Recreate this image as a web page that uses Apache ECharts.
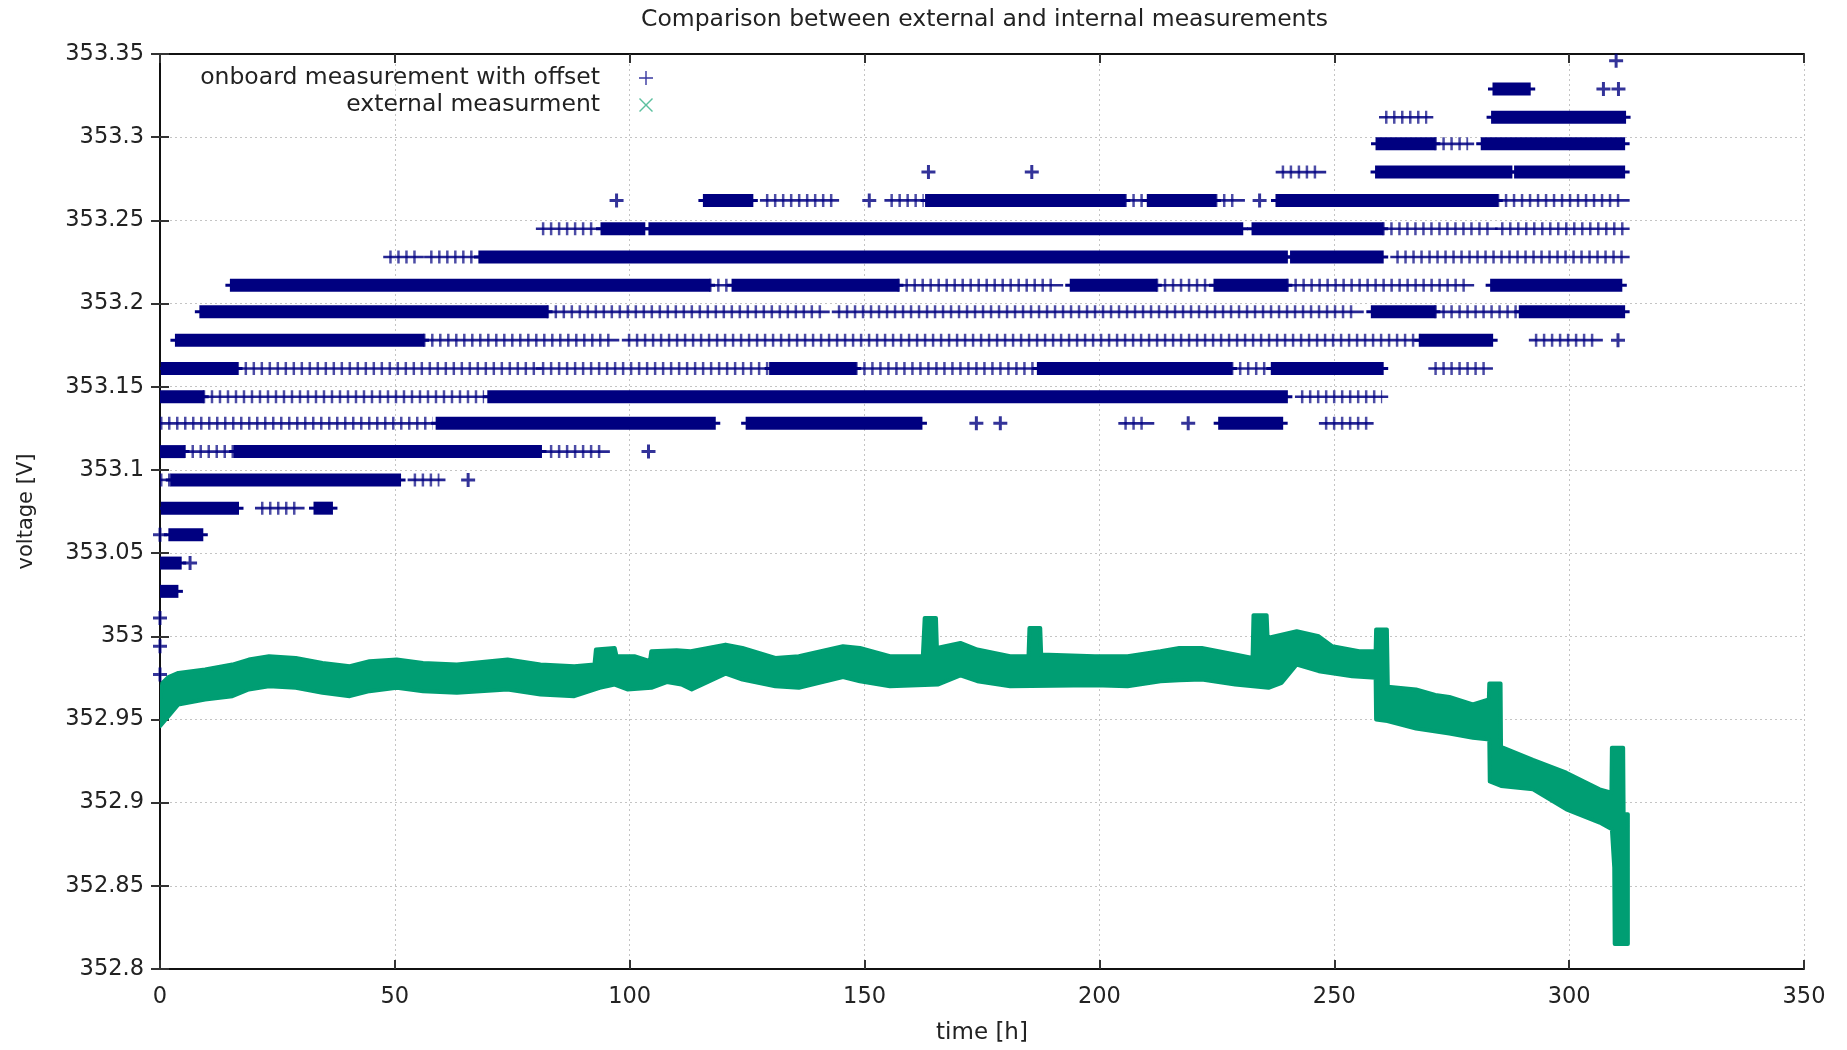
<!DOCTYPE html>
<html>
<head>
<meta charset="utf-8">
<script src="https://cdn.jsdelivr.net/npm/echarts@6.0.0/dist/echarts.min.js"></script>
<style>
  html, body { margin: 0; padding: 0; background: #fff; }
  #chart { width: 1847px; height: 1050px; }
</style>
</head>
<body>
<div id="chart"></div>
<script>
// quantised voltage steps of the onboard measurement [V]
const levels = [
  352.977, 352.994, 353.011, 353.027, 353.044, 353.061, 353.077, 353.094,
  353.111, 353.128, 353.144, 353.161, 353.178, 353.195, 353.211, 353.228,
  353.245, 353.262, 353.279, 353.296, 353.312, 353.329, 353.346
]

// dense runs of onboard points: [level index, from h, to h]
const denseRuns = [
  [3, 0, 3.6], [4, 0, 4.3], [5, 2.1, 8.9],
  [6, 0.5, 16.5], [6, 33, 36.5],
  [7, 2.5, 51],
  [8, 0, 5], [8, 16, 81],
  [9, 59, 118], [9, 125, 162], [9, 225.6, 238.8],
  [10, 0, 9.1], [10, 70, 239.8],
  [11, 0.5, 16.3], [11, 130, 148], [11, 187, 228], [11, 236.8, 260.2],
  [12, 3.5, 56], [12, 268.3, 283.5],
  [13, 8.7, 82.3], [13, 258.1, 271.3], [13, 289.6, 311.6],
  [14, 15.2, 116.9], [14, 122, 157], [14, 194, 212], [14, 224.6, 239.8], [14, 283.5, 311],
  [15, 68.1, 239.8], [15, 240.9, 260.2],
  [16, 94.1, 103], [16, 104.3, 230.3], [16, 232.7, 260.2],
  [17, 115.9, 126], [17, 163.2, 205.3], [17, 210.4, 224.6], [17, 237.8, 284.6],
  [18, 259, 287.6], [18, 288.6, 311.6],
  [19, 259.1, 271.3], [19, 281.5, 311.6],
  [20, 283.7, 311.8],
  [21, 284, 291.5]
]

// sparse runs (scattered single crosses): [level index, from h, to h]
const sparseRuns = [
  [6, 21.5, 29.5],
  [7, 0, 2.5], [7, 54, 59.5],
  [8, 5, 16], [8, 83, 94.5],
  [9, 0, 58], [9, 205.3, 210.4], [9, 248, 257.1],
  [10, 9.1, 69], [10, 242.9, 260.2],
  [11, 16.3, 80], [11, 81.3, 130], [11, 148, 187], [11, 228, 236], [11, 271.3, 282.5],
  [12, 56, 96.5], [12, 99.6, 268.3], [12, 292.7, 305.9],
  [13, 82.3, 141.3], [13, 144.3, 255], [13, 271.3, 289.6],
  [14, 116.9, 122], [14, 157, 191], [14, 212, 223.6], [14, 239.8, 278.5],
  [15, 48.8, 54.9], [15, 57.5, 67], [15, 263.2, 311.6],
  [16, 81.3, 92.5], [16, 260.2, 283.5], [16, 285.5, 311.6],
  [17, 129, 143.3], [17, 155.5, 162.6], [17, 205.3, 210.4], [17, 224.6, 229.7], [17, 284.6, 311.6],
  [18, 238.8, 247],
  [19, 271.3, 278.5],
  [20, 260.8, 269.8]
]

// lone onboard points: [level index, h]
const singlePoints = [
  [0, 0], [1, 0], [2, 0], [4, 6.4], [5, 0], [7, 65.6], [8, 104],
  [9, 173.8], [9, 178.9], [9, 218.9], [12, 310.4],
  [17, 97.2], [17, 151], [17, 234.1], [18, 163.6], [18, 185.6],
  [21, 307.3], [21, 310.5], [22, 310]
]

// external measurement, upper and lower edge of the noisy band: [h, V]
const extUpper = [
  [0, 352.962], [0.5, 352.972], [1.8, 352.9755], [3.9, 352.978], [9.6, 352.980],
  [15.4, 352.983], [18.9, 352.986], [23.2, 352.988], [28.9, 352.987], [34.6, 352.984],
  [40.4, 352.982], [44.6, 352.985], [50.4, 352.986], [56, 352.984], [63.2, 352.983],
  [74, 352.986], [81, 352.983], [88.2, 352.982], [92.5, 352.983], [92.8, 352.992],
  [96.8, 352.993], [97.2, 352.988], [101, 352.988], [104.3, 352.985], [104.6, 352.991],
  [110, 352.9916], [113, 352.991], [120.4, 352.995], [124, 352.993], [131, 352.987],
  [136, 352.988], [145.4, 352.994], [149, 352.993], [155.4, 352.988], [162.4, 352.988],
  [162.8, 353.011], [165.2, 353.011], [165.4, 352.993], [170.4, 352.996], [174, 352.992],
  [181, 352.988], [184.9, 352.988], [185.1, 353.005], [187.4, 353.005], [187.6, 352.989],
  [199, 352.988], [206, 352.988], [213, 352.991], [217, 352.993], [221.8, 352.993],
  [228.9, 352.989], [232.6, 352.987], [232.8, 353.0127], [235.6, 353.0127], [235.8, 352.999],
  [242, 353.003], [246.7, 353.0], [249.6, 352.994], [255.3, 352.991], [258.8, 352.991],
  [258.9, 353.004], [261.2, 353.004], [261.4, 352.9696], [267.4, 352.968], [271.5, 352.9647],
  [274.5, 352.9635], [279.5, 352.959], [282.9, 352.962], [283.0, 352.9716], [285.4, 352.9716],
  [285.5, 352.9336], [292.3, 352.9257], [299.4, 352.918], [306.5, 352.908], [309.0, 352.906],
  [309.1, 352.933], [311.5, 352.933], [311.6, 352.893], [312.5, 352.893]
]
const extLower = [
  [0, 352.946], [1.8, 352.952], [3.9, 352.959], [9.6, 352.962], [15.4, 352.964],
  [18.9, 352.968], [23.2, 352.970], [28.9, 352.969], [34.6, 352.966], [40.4, 352.964],
  [44.6, 352.967], [50.4, 352.969], [56, 352.967], [63.2, 352.966], [74, 352.968],
  [81, 352.965], [88.2, 352.964], [93.6, 352.969], [96.8, 352.971], [99.5, 352.968],
  [104.6, 352.969], [107.9, 352.9725], [111, 352.971], [113.2, 352.968], [120.4, 352.9775],
  [124, 352.974], [131, 352.970], [136, 352.969], [145.4, 352.9755], [149, 352.973],
  [155.4, 352.970], [165.7, 352.971], [170.4, 352.9765], [174, 352.973], [181, 352.970],
  [199, 352.9705], [206, 352.970], [213, 352.973], [217, 352.9735], [221.8, 352.974],
  [228.9, 352.971], [236, 352.969], [238.8, 352.972], [242, 352.983], [246.7, 352.979],
  [253.8, 352.976], [258.8, 352.975], [258.9, 352.950], [261.3, 352.949], [267.4, 352.9446],
  [274.5, 352.9416], [279.5, 352.939], [283.0, 352.938], [283.1, 352.9127], [285.5, 352.91],
  [292.3, 352.908], [299.4, 352.896], [306.5, 352.888], [309.1, 352.884], [309.6, 352.861],
  [309.7, 352.815], [312.5, 352.815]
]

const NAVY = '#000080'
const GREEN = '#009e73'
const PLUS = 'path://M0,5.5H14V8.5H0Z M5.5,0H8.5V14H5.5Z'
const PLUS_THIN = 'path://M0,6.3H14V7.7H0Z M6.3,0H7.7V14H6.3Z'
const CROSS = 'path://M0,1 L1,0 L7,6 L13,0 L14,1 L8,7 L14,13 L13,14 L7,8 L1,14 L0,13 L6,7 Z'
const FONT = 'DejaVu Sans'

const chart = echarts.init(document.getElementById('chart'))

const runData = list => list.map(r => [r[1], r[2], levels[r[0]]])

const axisCommon = {
  axisLine: { lineStyle: { color: '#111', width: 2 } },
  axisTick: { inside: true, length: 9, lineStyle: { color: '#333', width: 2 } }
}

const option = {
  backgroundColor: '#fff',
  animation: false,
  title: {
    text: 'Comparison between external and internal measurements',
    left: 636,
    top: 3,
    textStyle: { fontFamily: FONT, fontSize: 23.5, fontWeight: 'normal', color: '#222' }
  },
  legend: {
    orient: 'vertical',
    align: 'right',
    right: 1194,
    top: 66,
    padding: 0,
    itemWidth: 14,
    itemHeight: 14,
    itemGap: 3,
    textStyle: { fontFamily: FONT, fontSize: 23.5, lineHeight: 23, color: '#222', padding: [0, 34, 0, 0] },
    data: [
      { name: 'onboard measurement with offset', icon: PLUS_THIN, itemStyle: { color: '#3838a0' } },
      { name: 'external measurment', icon: CROSS, itemStyle: { color: '#5cc09f' } }
    ]
  },
  grid: { left: 160, right: 43, top: 54, bottom: 78 },
  xAxis: [
    {
      type: 'value', min: 0, max: 350, interval: 50, position: 'bottom',
      name: 'time [h]', nameLocation: 'middle', nameGap: 53,
      nameTextStyle: { fontFamily: FONT, fontSize: 23, color: '#222' },
      ...axisCommon,
      axisLabel: { fontFamily: FONT, fontSize: 22.5, color: '#222', margin: 17 },
      splitLine: { show: true, lineStyle: { color: '#c4c4c4', type: [2, 3], width: 1 } }
    },
    {
      type: 'value', min: 0, max: 350, interval: 50, position: 'top',
      ...axisCommon,
      axisLabel: { show: false }, splitLine: { show: false }
    }
  ],
  yAxis: [
    {
      type: 'value', min: 352.8, max: 353.35, interval: 0.05, position: 'left',
      name: 'voltage [V]', nameLocation: 'middle', nameGap: 123,
      nameTextStyle: { fontFamily: FONT, fontSize: 21, color: '#222' },
      ...axisCommon,
      axisLabel: { fontFamily: FONT, fontSize: 22.5, color: '#222', margin: 16 },
      splitLine: { show: true, lineStyle: { color: '#c4c4c4', type: [2, 3], width: 1 } }
    },
    {
      type: 'value', min: 352.8, max: 353.35, interval: 0.05, position: 'right',
      ...axisCommon,
      axisLabel: { show: false }, splitLine: { show: false }
    }
  ],
  series: [
    {
      // noisy band of the external measurement
      name: 'external measurment',
      type: 'custom',
      itemStyle: { color: GREEN },
      clip: true,
      z: 2,
      data: [[0, 352.95]],
      renderItem: (params, api) => {
        const pts = extUpper.map(p => api.coord(p))
          .concat(extLower.slice().reverse().map(p => api.coord(p)))
        return {
          type: 'polygon',
          shape: { points: pts },
          style: { fill: GREEN, stroke: GREEN, lineWidth: 4, lineJoin: 'round' }
        }
      }
    },
    {
      // sparse onboard runs
      name: 'onboard measurement with offset',
      type: 'custom',
      itemStyle: { color: NAVY },
      clip: true,
      z: 3,
      encode: { x: [0, 1], y: 2 },
      data: runData(sparseRuns),
      renderItem: (params, api) => {
        const a = api.coord([api.value(0), api.value(2)])
        const b = api.coord([api.value(1), api.value(2)])
        return {
          type: 'group',
          children: [
            {
              type: 'rect',
              shape: { x: a[0] - 6, y: a[1] - 1.3, width: b[0] - a[0] + 12, height: 2.6 },
              style: { fill: NAVY, opacity: 0.85 }
            },
            {
              type: 'line',
              shape: { x1: a[0], y1: a[1], x2: b[0], y2: b[1] },
              style: { stroke: NAVY, lineWidth: 13, lineDash: [2.5, 5.5], opacity: 0.7 }
            }
          ]
        }
      }
    },
    {
      // dense onboard runs
      name: 'onboard measurement with offset',
      type: 'custom',
      itemStyle: { color: NAVY },
      clip: true,
      z: 4,
      encode: { x: [0, 1], y: 2 },
      data: runData(denseRuns),
      renderItem: (params, api) => {
        const a = api.coord([api.value(0), api.value(2)])
        const b = api.coord([api.value(1), api.value(2)])
        return {
          type: 'group',
          children: [
            {
              type: 'rect',
              shape: { x: a[0] - 6, y: a[1] - 1.5, width: b[0] - a[0] + 12, height: 3 },
              style: { fill: NAVY }
            },
            {
              type: 'rect',
              shape: { x: a[0] - 1.5, y: a[1] - 6.5, width: b[0] - a[0] + 3, height: 13 },
              style: { fill: NAVY }
            }
          ]
        }
      }
    },
    {
      name: 'onboard measurement with offset',
      type: 'scatter',
      symbol: PLUS,
      symbolSize: 14,
      itemStyle: { color: NAVY },
      z: 5,
      data: singlePoints.map(p => [p[1], levels[p[0]]])
    }
  ]
}

chart.setOption(option)
</script>
</body>
</html>
